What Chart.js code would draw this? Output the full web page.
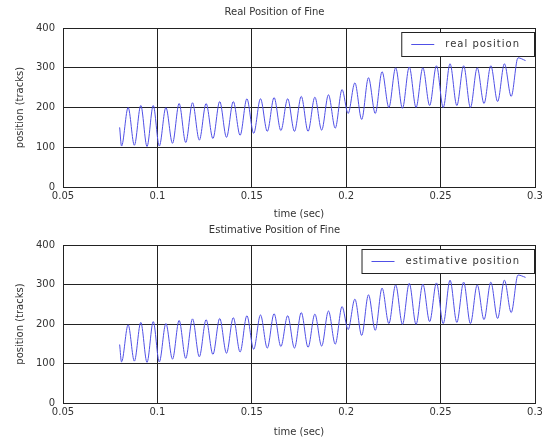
<!DOCTYPE html>
<html>
<head>
<meta charset="utf-8">
<script src="https://cdn.jsdelivr.net/npm/chart.js@4"></script>
<style>
  body { margin: 0; background: #fff; }
  .wrap { position: absolute; left: 0; width: 560px; }
</style>
</head>
<body>
<div class="wrap" style="top:0;height:222px"><canvas id="real-chart"></canvas></div>
<div class="wrap" style="top:222px;height:223px"><canvas id="est-chart"></canvas></div>
<script>
// sample times (sec) at the turning points of the signal
const timeSec = [
  0.0800, 0.0810, 0.0845, 0.0878, 0.0912, 0.0945, 0.0978, 0.1010, 0.1045, 0.1080,
  0.1115, 0.1150, 0.1186, 0.1222, 0.1258, 0.1294, 0.1330, 0.1366, 0.1402, 0.1438,
  0.1474, 0.1510, 0.1546, 0.1582, 0.1618, 0.1654, 0.1690, 0.1726, 0.1762, 0.1798,
  0.1834, 0.1870, 0.1906, 0.1942, 0.1978, 0.2010, 0.2046, 0.2082, 0.2118, 0.2154,
  0.2190, 0.2226, 0.2262, 0.2298, 0.2334, 0.2370, 0.2406, 0.2442, 0.2478, 0.2514,
  0.2550, 0.2586, 0.2622, 0.2658, 0.2694, 0.2730, 0.2766, 0.2802, 0.2838, 0.2874,
  0.2910, 0.2950
];
const realPos = [
  150, 103, 200, 105, 205, 102, 205, 103, 200, 110,
  210, 112, 212, 118, 210, 122, 215, 125, 215, 130,
  222, 135, 222, 140, 225, 142, 222, 140, 228, 140,
  226, 143, 232, 148, 245, 185, 262, 170, 275, 185,
  290, 200, 300, 198, 302, 200, 300, 205, 305, 200,
  310, 205, 305, 200, 300, 210, 305, 215, 310, 228,
  325, 318
];
const estPos = [
  148, 104, 198, 106, 204, 103, 206, 104, 201, 111,
  209, 113, 213, 117, 211, 123, 214, 126, 216, 129,
  221, 136, 223, 139, 226, 143, 221, 139, 229, 141,
  225, 144, 233, 149, 244, 186, 263, 171, 274, 184,
  291, 201, 299, 199, 303, 199, 301, 206, 304, 201,
  311, 204, 306, 201, 299, 211, 306, 214, 311, 229,
  324, 318
];
const xTicks = [0.05, 0.1, 0.15, 0.2, 0.25, 0.3];
const xTickLabels = ['0.05', '0.1', '0.15', '0.2', '0.25', '0.3'];
const yTicks = [0, 100, 200, 300, 400];

const lineColor = 'rgb(80, 80, 230)';
const font = { family: 'DejaVu Sans, sans-serif', size: 10 };

// box round the plot plus a MATLAB style legend inside the top right corner
const boxPlugin = {
  id: 'box',
  afterDraw(chart) {
    const { ctx, chartArea: a } = chart;
    ctx.save();
    ctx.strokeStyle = '#222';
    ctx.lineWidth = 1;
    ctx.strokeRect(a.left + 0.5, a.top + 0.5, a.right - a.left, a.bottom - a.top);

    const label = chart.data.datasets[0].label;
    ctx.font = '10px ' + font.family;
    ctx.letterSpacing = '1px';
    const tw = ctx.measureText(label).width;
    const w = tw + 58, h = 24;
    const x = a.right - w - 1, y = a.top + 4;
    ctx.fillStyle = '#fff';
    ctx.fillRect(x, y, w, h);
    ctx.strokeStyle = '#222';
    ctx.strokeRect(x + 0.5, y + 0.5, w, h);
    ctx.strokeStyle = lineColor;
    ctx.beginPath();
    ctx.moveTo(x + 10, y + h / 2 + 0.5);
    ctx.lineTo(x + 33, y + h / 2 + 0.5);
    ctx.stroke();
    ctx.fillStyle = '#333';
    ctx.textBaseline = 'middle';
    ctx.fillText(label, x + 44, y + h / 2);
    ctx.restore();
  }
};

function makeChart(id, title, label, values, xAxisH, titlePad, xTitlePad) {
  const points = timeSec.map((t, i) => ({ x: t, y: values[i] }));
  return new Chart(document.getElementById(id), {
    type: 'line',
    data: {
      datasets: [{
        label,
        data: points,
        borderColor: lineColor,
        borderWidth: 1,
        pointRadius: 0,
        cubicInterpolationMode: 'monotone',
        fill: false
      }]
    },
    options: {
      responsive: true,
      maintainAspectRatio: false,
      animation: false,
      layout: { padding: { left: 14, right: 25, top: 0, bottom: 0 } },
      scales: {
        x: {
          type: 'linear',
          min: 0.05,
          max: 0.3,
          afterBuildTicks: s => { s.ticks = xTicks.map(v => ({ value: v })); },
          afterFit: s => { s.height = xAxisH; },
          ticks: {
            color: '#333',
            font,
            maxRotation: 0,
            padding: 3,
            callback: v => xTickLabels[xTicks.indexOf(v)]
          },
          grid: { color: '#222', lineWidth: 1, drawTicks: false },
          border: { color: '#222' },
          title: { display: true, text: 'time (sec)', color: '#333', font, padding: xTitlePad }
        },
        y: {
          min: 0,
          max: 400,
          afterBuildTicks: s => { s.ticks = yTicks.map(v => ({ value: v })); },
          afterFit: s => { s.width = 49; },
          ticks: { color: '#333', font, padding: 8 },
          grid: { color: '#222', lineWidth: 1, drawTicks: false },
          border: { color: '#222' },
          title: { display: true, text: 'position (tracks)', color: '#333', font, padding: 0 }
        }
      },
      plugins: {
        legend: { display: false },
        tooltip: { enabled: false },
        title: {
          display: true,
          text: title,
          color: '#333',
          font: { family: font.family, size: 10, weight: 'normal' },
          padding: titlePad
        }
      }
    },
    plugins: [boxPlugin]
  });
}

makeChart('real-chart', 'Real Position of Fine', 'real position', realPos, 35,
  { top: 6, bottom: 10 }, { top: 0, bottom: 2 });
makeChart('est-chart', 'Estimative Position of Fine', 'estimative position', estPos, 42,
  { top: 2, bottom: 9 }, { top: 0, bottom: 7 });
</script>
</body>
</html>
